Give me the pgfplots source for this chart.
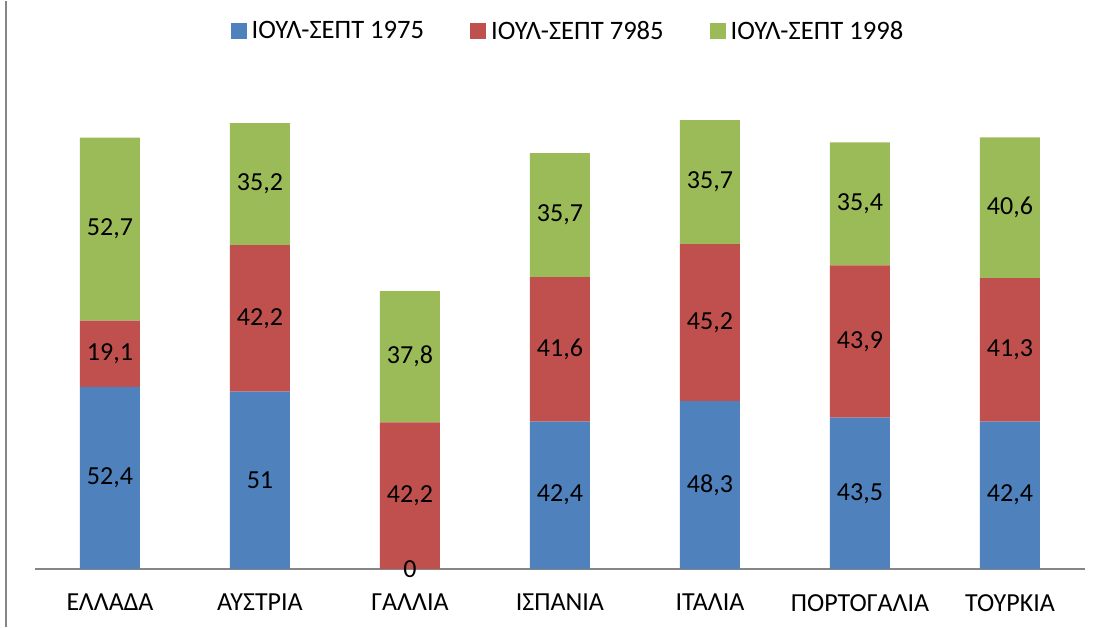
\documentclass[border=0pt]{standalone}
\usepackage{pgfplots}
\pgfplotsset{compat=1.18}
\usepackage{fontspec}
\setmainfont{Carlito}
\definecolor{exblue}{HTML}{4F81BD}
\definecolor{exred}{HTML}{C0504D}
\definecolor{exgreen}{HTML}{9BBB59}
\definecolor{axgray}{HTML}{868686}
\newcommand{\bigf}{\fontsize{26}{30}\selectfont}
\newcommand{\legf}{\fontsize{26.6}{30}\selectfont}
\begin{document}
\begin{tikzpicture}
\begin{axis}[
  at={(0,0)}, anchor=south west,
  scale only axis,
  width=1050pt, height=486pt,
  set layers, mark layer=axis foreground,
  clip=false,
  ybar stacked,
  bar width=60pt,
  xmin=-0.5, xmax=6.5,
  ymin=0, ymax=140,
  xtick=data,
  xticklabels={ΕΛΛΑΔΑ,ΑΥΣΤΡΙΑ,ΓΑΛΛΙΑ,ΙΣΠΑΝΙΑ,ΙΤΑΛΙΑ,ΠΟΡΤΟΓΑΛΙΑ,ΤΟΥΡΚΙΑ},
  xtick style={draw=none},
  ytick=\empty,
  axis x line*=bottom,
  axis y line=none,
  x axis line style={axgray, line width=1.5pt},
  xticklabel style={font=\bigf, yshift=-22pt},
  nodes near coords,
  nodes near coords style={font=\bigf, text=black, anchor=center},
  /pgf/number format/.cd, use comma, fixed, precision=1, assume math mode=true,
  /pgfplots/.cd,
  legend style={draw=none, fill=none, font=\legf, at={(0.5076,1.107)}, anchor=center,
    legend columns=-1,
    /tikz/every odd column/.append style={column sep=3pt},
    /tikz/every even column/.append style={column sep=44pt}},
  legend image code/.code={\fill[#1] (0pt,-8pt) rectangle (16pt,8pt);},
]
\addplot[fill=exblue, draw=none] coordinates {(0,52.4) (1,51) (2,0) (3,42.4) (4,48.3) (5,43.5) (6,42.4)};
\addplot[fill=exred, draw=none] coordinates {(0,19.1) (1,42.2) (2,42.2) (3,41.6) (4,45.2) (5,43.9) (6,41.3)};
\addplot[fill=exgreen, draw=none] coordinates {(0,52.7) (1,35.2) (2,37.8) (3,35.7) (4,35.7) (5,35.4) (6,40.6)};
\legend{ΙΟΥΛ-ΣΕΠΤ 1975,ΙΟΥΛ-ΣΕΠΤ 7985,ΙΟΥΛ-ΣΕΠΤ 1998}
\addplot[forget plot, stack plots=false, only marks, mark=none, nodes near coords] coordinates {(2,0)};
\end{axis}
\draw[axgray, line width=1.5pt] (-29pt,-58pt) -- (-29pt,568pt);
\path (-35pt,-58pt) rectangle (1068pt,568pt);
\end{tikzpicture}
\end{document}
